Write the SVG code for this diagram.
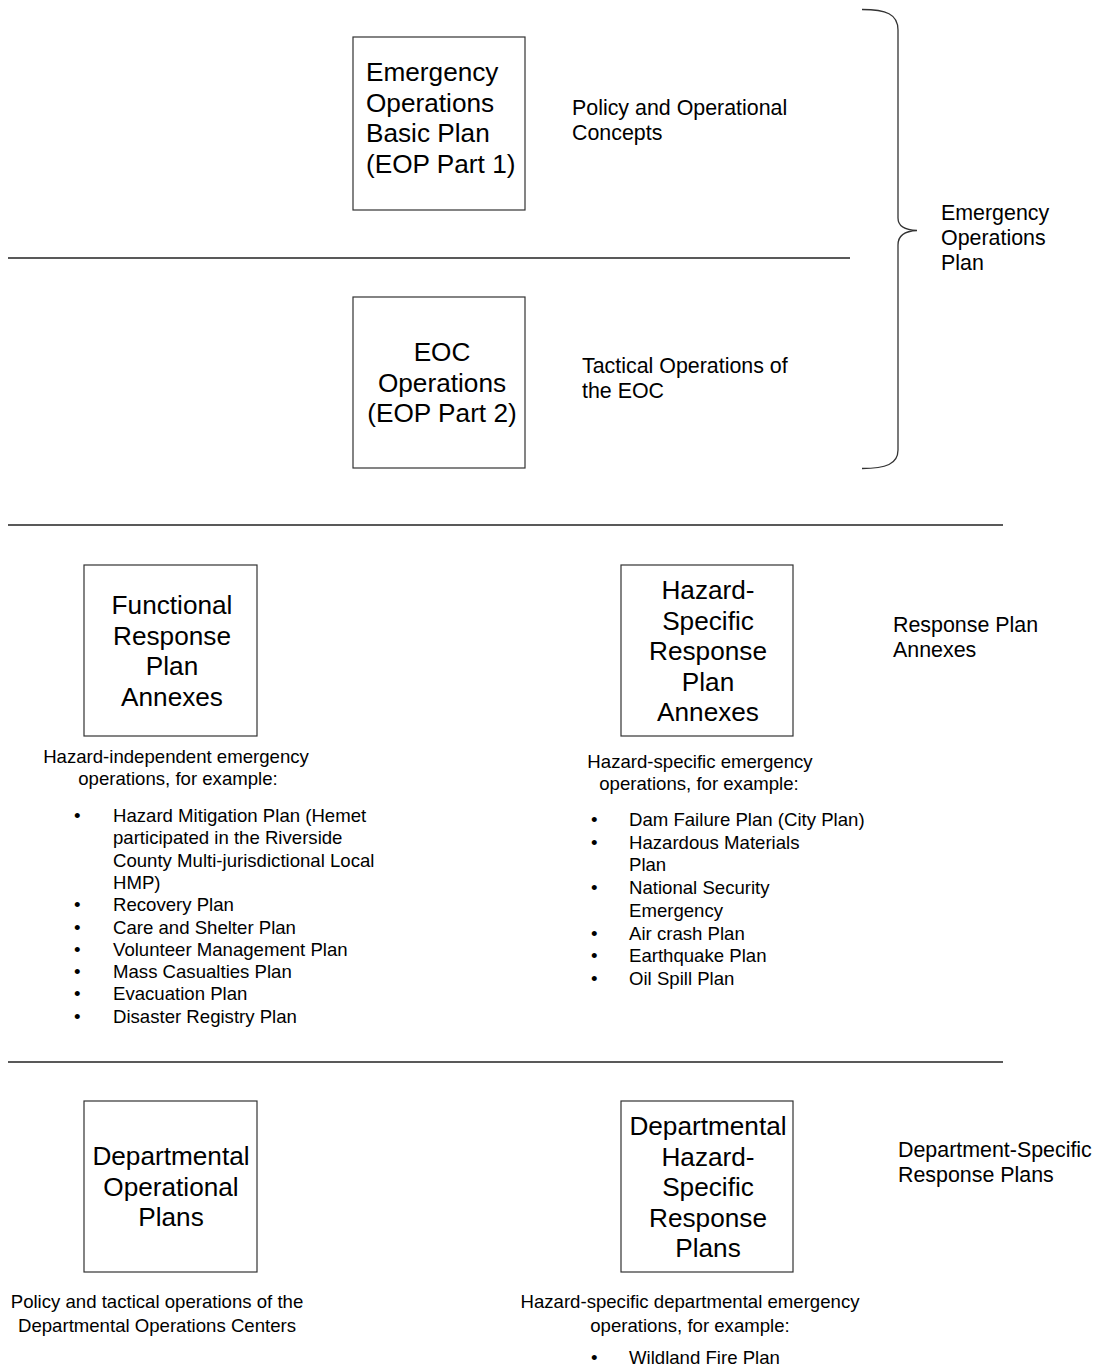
<svg xmlns="http://www.w3.org/2000/svg" width="1099" height="1370" viewBox="0 0 1099 1370">
<style>
text{font-family:"Liberation Sans",Arial,sans-serif;fill:#000}
.h{font-size:26.2px}
.c{text-anchor:middle}
.s{font-size:21.4px}
.d{font-size:18.6px}
.box{fill:#fff;stroke:#333;stroke-width:1.2}
.rule{stroke:#222;stroke-width:1.3;fill:none}
.brace{stroke:#333;stroke-width:1.3;fill:none}
</style>
<rect width="1099" height="1370" fill="#fff"/>
<g id="connectors">
<line class="rule" x1="8" y1="258" x2="850" y2="258"/>
<line class="rule" x1="8" y1="525" x2="1003" y2="525"/>
<line class="rule" x1="8" y1="1062" x2="1003" y2="1062"/>
<path class="brace" d="M862 9.5 C886 9.5 898 14 898 30 L898 218 C898 226 904 230 917 230.5 C904 231 898 236 898 245 L898 450 C898 464 886 468.5 862 468.5"/>
</g>
<g id="eop-basic">
<rect class="box" x="353" y="37" width="172" height="173"/>
<text class="h" x="366" y="81">Emergency</text>
<text class="h" x="366" y="111.5">Operations</text>
<text class="h" x="366" y="142">Basic Plan</text>
<text class="h" x="366" y="172.5">(EOP Part 1)</text>
</g>
<g id="label-policy">
<text class="s" x="572" y="115">Policy and Operational</text>
<text class="s" x="572" y="139.5">Concepts</text>
</g>
<g id="eoc-ops">
<rect class="box" x="353" y="297" width="172" height="171"/>
<text class="h c" x="442" y="361">EOC</text>
<text class="h c" x="442" y="391.5">Operations</text>
<text class="h c" x="442" y="422">(EOP Part 2)</text>
</g>
<g id="label-tactical">
<text class="s" x="582" y="373">Tactical Operations of</text>
<text class="s" x="582" y="397.5">the EOC</text>
</g>
<g id="label-eop">
<text class="s" x="941" y="220">Emergency</text>
<text class="s" x="941" y="245">Operations</text>
<text class="s" x="941" y="270">Plan</text>
</g>
<g id="functional">
<rect class="box" x="84" y="565" width="173" height="171"/>
<text class="h c" x="172" y="614">Functional</text>
<text class="h c" x="172" y="644.5">Response</text>
<text class="h c" x="172" y="675">Plan</text>
<text class="h c" x="172" y="705.5">Annexes</text>
</g>
<g id="functional-desc">
<text class="d c" x="176" y="763">Hazard-independent emergency</text>
<text class="d c" x="178" y="785">operations, for example:</text>
<g class="d">
<text x="74" y="822">•</text><text x="113" y="822">Hazard Mitigation Plan (Hemet</text>
<text x="113" y="844.3">participated in the Riverside</text>
<text x="113" y="866.6">County Multi-jurisdictional Local</text>
<text x="113" y="888.9">HMP)</text>
<text x="74" y="911.2">•</text><text x="113" y="911.2">Recovery Plan</text>
<text x="74" y="933.5">•</text><text x="113" y="933.5">Care and Shelter Plan</text>
<text x="74" y="955.8">•</text><text x="113" y="955.8">Volunteer Management Plan</text>
<text x="74" y="978.1">•</text><text x="113" y="978.1">Mass Casualties Plan</text>
<text x="74" y="1000.4">•</text><text x="113" y="1000.4">Evacuation Plan</text>
<text x="74" y="1022.7">•</text><text x="113" y="1022.7">Disaster Registry Plan</text>
</g>
</g>
<g id="hazard-specific">
<rect class="box" x="621" y="565" width="172" height="171"/>
<text class="h c" x="708" y="599">Hazard-</text>
<text class="h c" x="708" y="629.5">Specific</text>
<text class="h c" x="708" y="660">Response</text>
<text class="h c" x="708" y="690.5">Plan</text>
<text class="h c" x="708" y="721">Annexes</text>
</g>
<g id="hazard-desc">
<text class="d c" x="700" y="768">Hazard-specific emergency</text>
<text class="d c" x="699" y="790">operations, for example:</text>
<g class="d">
<text x="591" y="826">•</text><text x="629" y="826">Dam Failure Plan (City Plan)</text>
<text x="591" y="848.7">•</text><text x="629" y="848.7">Hazardous Materials</text>
<text x="629" y="871.4">Plan</text>
<text x="591" y="894.1">•</text><text x="629" y="894.1">National Security</text>
<text x="629" y="916.8">Emergency</text>
<text x="591" y="939.5">•</text><text x="629" y="939.5">Air crash Plan</text>
<text x="591" y="962.2">•</text><text x="629" y="962.2">Earthquake Plan</text>
<text x="591" y="984.9">•</text><text x="629" y="984.9">Oil Spill Plan</text>
</g>
</g>
<g id="label-annexes">
<text class="s" x="893" y="632">Response Plan</text>
<text class="s" x="893" y="656.5">Annexes</text>
</g>
<g id="dept-ops">
<rect class="box" x="84" y="1101" width="173" height="171"/>
<text class="h c" x="171" y="1165">Departmental</text>
<text class="h c" x="171" y="1195.5">Operational</text>
<text class="h c" x="171" y="1226">Plans</text>
</g>
<g id="dept-ops-desc">
<text class="d c" x="157" y="1308">Policy and tactical operations of the</text>
<text class="d c" x="157" y="1332">Departmental Operations Centers</text>
</g>
<g id="dept-hazard">
<rect class="box" x="621" y="1101" width="172" height="171"/>
<text class="h c" x="708" y="1135">Departmental</text>
<text class="h c" x="708" y="1165.5">Hazard-</text>
<text class="h c" x="708" y="1196">Specific</text>
<text class="h c" x="708" y="1226.5">Response</text>
<text class="h c" x="708" y="1257">Plans</text>
</g>
<g id="dept-hazard-desc">
<text class="d c" x="690" y="1308">Hazard-specific departmental emergency</text>
<text class="d c" x="690" y="1332">operations, for example:</text>
<text class="d" x="591" y="1364">•</text><text class="d" x="629" y="1364">Wildland Fire Plan</text>
</g>
<g id="label-dept">
<text class="s" x="898" y="1157">Department-Specific</text>
<text class="s" x="898" y="1182">Response Plans</text>
</g>
</svg>
